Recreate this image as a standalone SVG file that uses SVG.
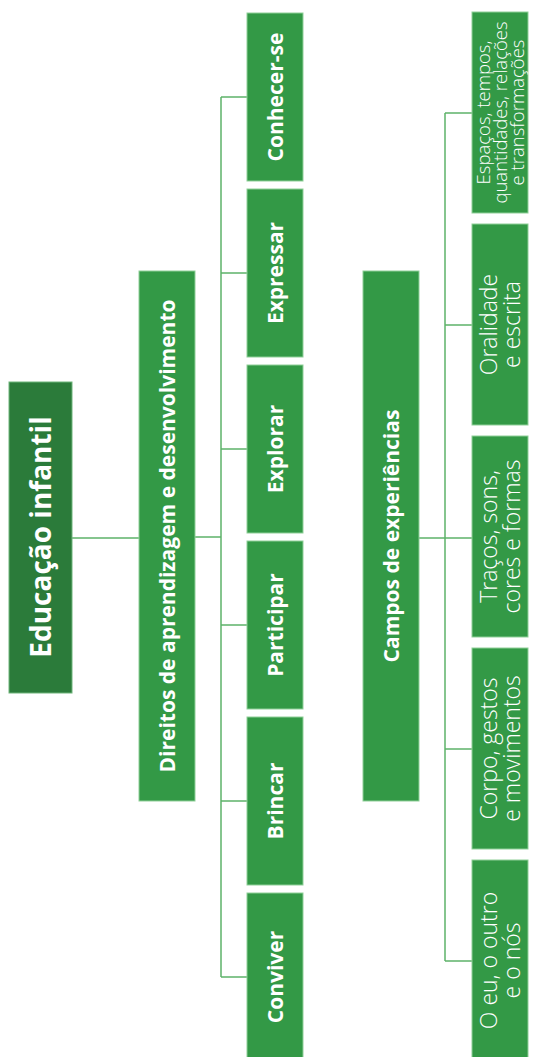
<svg xmlns="http://www.w3.org/2000/svg" width="544" height="1057" viewBox="0 0 544 1057">
<style>
.box{fill:#339946;stroke:#8fcf98;stroke-width:1}
.root{fill:#2b7b3a;stroke:#6fb57a;stroke-width:1}
.b{font-family:"Open Sans","Liberation Sans",sans-serif;font-weight:bold;fill:#fff;text-anchor:middle}
.l{font-family:"Open Sans","Liberation Sans",sans-serif;font-weight:300;fill:#fff;text-anchor:middle;font-size:23px}
.c{fill:none;stroke:#5db369;stroke-width:1.5}
</style>
<rect width="544" height="1057" fill="#fff"/>
<g id="connectors">
<path class="c" d="M72 538H139M195 537H221M221 97V977M221 97H247M221 273H247M221 449H247M221 625H247M221 801H247M221 977H247"/>
<path class="c" d="M419 538H472M445 113V961M445 113H472M445 325H472M445 749H472M445 961H472"/>
</g>
<g id="root">
<rect class="root" x="9" y="382" width="63" height="311"/>
<text class="b" font-size="28" transform="translate(40.5,537) rotate(-90)" y="10">Educação infantil</text>
</g>
<g id="direitos">
<rect class="box" x="139" y="271" width="56" height="530"/>
<text class="b" font-size="21" transform="translate(167,536) rotate(-90)" y="7.5">Direitos de aprendizagem e desenvolvimento</text>
</g>
<g id="conhecer">
<rect class="box" x="247" y="13" width="56" height="168"/>
<text class="b" font-size="21" transform="translate(275,97) rotate(-90)" y="7.5">Conhecer-se</text>
</g>
<g id="expressar">
<rect class="box" x="247" y="189" width="56" height="168"/>
<text class="b" font-size="21" transform="translate(275,273) rotate(-90)" y="7.5">Expressar</text>
</g>
<g id="explorar">
<rect class="box" x="247" y="365" width="56" height="168"/>
<text class="b" font-size="21" transform="translate(275,449) rotate(-90)" y="7.5">Explorar</text>
</g>
<g id="participar">
<rect class="box" x="247" y="541" width="56" height="168"/>
<text class="b" font-size="21" transform="translate(275,625) rotate(-90)" y="7.5">Participar</text>
</g>
<g id="brincar">
<rect class="box" x="247" y="717" width="56" height="168"/>
<text class="b" font-size="21" transform="translate(275,801) rotate(-90)" y="7.5">Brincar</text>
</g>
<g id="conviver">
<rect class="box" x="247" y="893" width="56" height="168"/>
<text class="b" font-size="21" transform="translate(275,977) rotate(-90)" y="7.5">Conviver</text>
</g>
<g id="campos">
<rect class="box" x="363" y="271" width="56" height="530"/>
<text class="b" font-size="21" transform="translate(391,536) rotate(-90)" y="7.5">Campos de experiências</text>
</g>
<g id="espacos">
<rect class="box" x="472" y="12" width="56" height="201"/>
<text class="l" style="font-size:18.5px" transform="translate(500,112.5) rotate(-90)"><tspan x="0" y="-10.5">Espaços, tempos,</tspan><tspan x="0" y="6.5">quantidades, relações</tspan><tspan x="0" y="23.5">e transformações</tspan></text>
</g>
<g id="oralidade">
<rect class="box" x="472" y="224" width="56" height="201"/>
<text class="l" transform="translate(500,324.5) rotate(-90)"><tspan x="0" y="-3.5">Oralidade</tspan><tspan x="0" y="19.5">e escrita</tspan></text>
</g>
<g id="tracos">
<rect class="box" x="472" y="436" width="56" height="201"/>
<text class="l" transform="translate(500,536.5) rotate(-90)"><tspan x="0" y="-3.5">Traços, sons,</tspan><tspan x="0" y="19.5">cores e formas</tspan></text>
</g>
<g id="corpo">
<rect class="box" x="472" y="648" width="56" height="201"/>
<text class="l" transform="translate(500,748.5) rotate(-90)"><tspan x="0" y="-3.5">Corpo, gestos</tspan><tspan x="0" y="19.5">e movimentos</tspan></text>
</g>
<g id="oeu">
<rect class="box" x="472" y="860" width="56" height="201"/>
<text class="l" transform="translate(500,960.5) rotate(-90)"><tspan x="0" y="-3.5">O eu, o outro</tspan><tspan x="0" y="19.5">e o nós</tspan></text>
</g>
</svg>
